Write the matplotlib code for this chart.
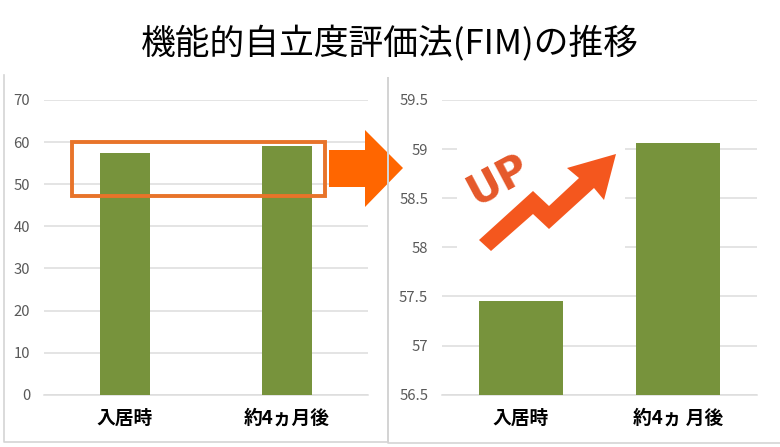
import matplotlib
matplotlib.use("Agg")
from matplotlib import pyplot as plt
from matplotlib.patches import Polygon, Rectangle

plt.rcParams['font.family'] = ['Noto Sans CJK JP', 'DejaVu Sans']

W, H = 780, 447

labels_left = ["入居時", "約4ヵ月後"]
labels_right = ["入居時", "約4ヵ 月後"]
values_left = [57.4, 59.0]
values_right = [57.45, 59.06]
ticks_left = [0, 10, 20, 30, 40, 50, 60, 70]
ticks_right = [56.5, 57, 57.5, 58, 58.5, 59, 59.5]

GREEN = "#77933C"
GRID = "#DDDDDD"
TICK = "#595959"
ORANGE = "#E8742A"
BIG_ARROW = "#FF6600"
UP_RED = "#F4571E"
FRAME = "#D4D4D4"


def make_axes(fig, x0, x1, y_top, y_bottom):
    return fig.add_axes([x0 / W, 1 - y_bottom / H, (x1 - x0) / W, (y_bottom - y_top) / H])


def bar_panel(ax, labels, values, ticks, width, pad):
    ax.bar(range(len(values)), values, width=width, color=GREEN, zorder=3)
    ax.set_xlim(-0.5, len(values) - 0.5)
    ax.set_ylim(ticks[0], ticks[-1])
    ax.set_yticks(ticks)
    ax.set_yticklabels(["%g" % t for t in ticks], fontsize=10.7, color=TICK)
    ax.set_xticks(range(len(values)))
    ax.set_xticklabels(labels, fontsize=13.5, fontweight="bold", color="black")
    ax.tick_params(axis="both", length=0)
    ax.tick_params(axis="y", pad=pad)
    ax.tick_params(axis="x", pad=10)
    ax.grid(axis="y", color=GRID, linewidth=1.1, zorder=0)
    ax.set_axisbelow(True)
    for s in ax.spines.values():
        s.set_visible(False)
    ax.spines["bottom"].set_visible(True)
    ax.spines["bottom"].set_color(GRID)
    ax.spines["bottom"].set_linewidth(1.1)
    ax.patch.set_alpha(0)


fig = plt.figure(figsize=(W / 100, H / 100), dpi=100, facecolor="white")

ax1 = make_axes(fig, 44, 368, 100, 394.7)
bar_panel(ax1, labels_left, values_left, ticks_left, 0.31, 10)

ax2 = make_axes(fig, 442, 757, 100, 394.7)
bar_panel(ax2, labels_right, values_right, ticks_right, 0.533, 10)

# everything pasted on top of the charts, in image pixels
over = fig.add_axes([0, 0, 1, 1], zorder=5)
over.set_xlim(0, W)
over.set_ylim(H, 0)
over.axis("off")

over.plot([4, 4, 388, 388, 388, 780], [75, 442, 442, 78, 443, 443], color=FRAME, lw=1.2)

over.add_patch(Rectangle((71.5, 141.5), 253, 54, fill=False, ec=ORANGE, lw=2.8))
over.add_patch(Polygon([(329, 150), (365, 150), (365, 130), (403, 168), (365, 207),
                        (365, 187), (329, 187)], color=BIG_ARROW, lw=0))

# white patch behind the UP sign hides the gridlines
over.add_patch(Rectangle((457, 127), 168, 133, color="white", lw=0))
over.add_patch(Polygon([(479, 240), (491, 251), (533, 214), (549, 229), (594, 188),
                        (604, 200), (616, 154), (567, 168), (579, 178), (549, 206),
                        (533, 191)], color=UP_RED, lw=0))
over.text(498, 180, "UP", rotation=28, fontsize=30, fontweight="bold", color="#E5582A",
          ha="center", va="center", family=["DejaVu Sans"])

over.text(390, 44, "機能的自立度評価法(FIM)の推移", fontsize=25, color="black",
          ha="center", va="center")

fig.savefig("out.png", dpi=100, facecolor="white")
